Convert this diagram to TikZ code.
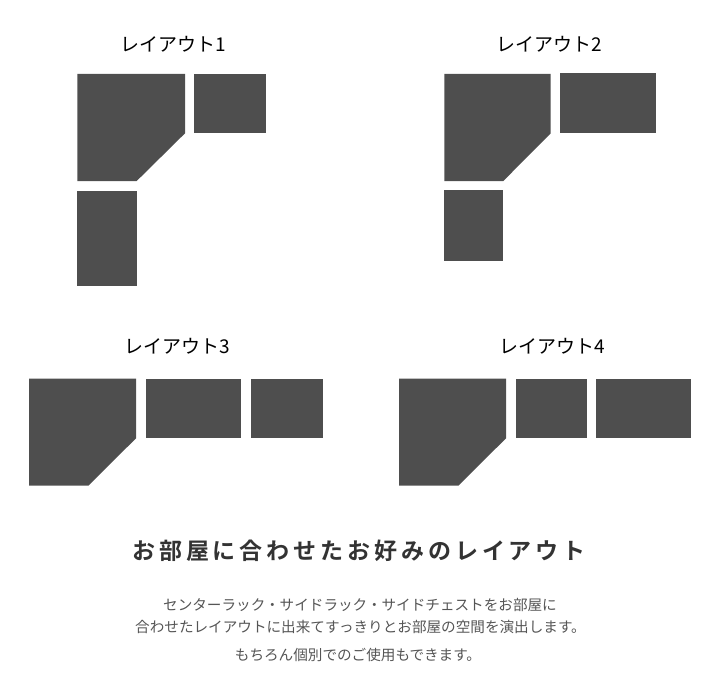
\documentclass[tikz,border=0pt]{standalone}
\usepackage{fontspec}
\newfontfamily\cjk{Noto Sans CJK JP}
\newfontfamily\cjkbold{Noto Sans CJK JP Bold}[LetterSpace=17]
\definecolor{piece}{RGB}{78,78,78}
\definecolor{headc}{RGB}{51,51,51}
\definecolor{bodyc}{RGB}{85,85,85}
\begin{document}
\begin{tikzpicture}[x=1pt,y=-1pt,
  piecefill/.style={fill=piece,draw=none},
  titlelabel/.style={font=\cjk\fontsize{19}{21}\selectfont,text=black,inner sep=0pt},
  headlabel/.style={font=\cjkbold\fontsize{23}{26}\selectfont,text=headc,inner sep=0pt},
  bodylabel/.style={font=\cjk\fontsize{14.6}{17}\selectfont,text=bodyc,inner sep=0pt}]
\useasboundingbox (0,0) rectangle (720,690);
% Layout 1
\node[titlelabel] (t1) at (173,44) {レイアウト1};
\fill[piecefill] (77.3,74) -- (185,74) -- (185,133.3) -- (136.7,181) -- (77.3,181) -- cycle;
\fill[piecefill] (194,74) rectangle (265.7,133.3);
\fill[piecefill] (77.3,190.7) rectangle (136.7,285.7);
% Layout 2
\node[titlelabel] (t2) at (549,44) {レイアウト2};
\fill[piecefill] (444.3,74) -- (550.7,74) -- (550.7,133.3) -- (503.3,181) -- (444.3,181) -- cycle;
\fill[piecefill] (560,73.5) rectangle (655.7,133);
\fill[piecefill] (443.7,190) rectangle (503.3,260.7);
% Layout 3
\node[titlelabel] (t3) at (177.7,346) {レイアウト3};
\fill[piecefill] (29,378.7) -- (136,378.7) -- (136,438.3) -- (88.3,485.7) -- (29,485.7) -- cycle;
\fill[piecefill] (146,378.7) rectangle (241.3,438.3);
\fill[piecefill] (251,378.7) rectangle (322.7,438.3);
% Layout 4
\node[titlelabel] (t4) at (552.5,346) {レイアウト4};
\fill[piecefill] (399,378.7) -- (506,378.7) -- (506,438.3) -- (458.3,485.7) -- (399,485.7) -- cycle;
\fill[piecefill] (515.7,378.7) rectangle (587.3,438.3);
\fill[piecefill] (595.7,378.7) rectangle (691,438.3);
% Text
\node[headlabel] (head) at (359,551) {お部屋に合わせたお好みのレイアウト};
\node[bodylabel] (b1) at (360,605) {センターラック・サイドラック・サイドチェストをお部屋に};
\node[bodylabel] (b2) at (360.5,627) {合わせたレイアウトに出来てすっきりとお部屋の空間を演出します。};
\node[bodylabel] (b3) at (358,655) {もちろん個別でのご使用もできます。};
\end{tikzpicture}
\end{document}
